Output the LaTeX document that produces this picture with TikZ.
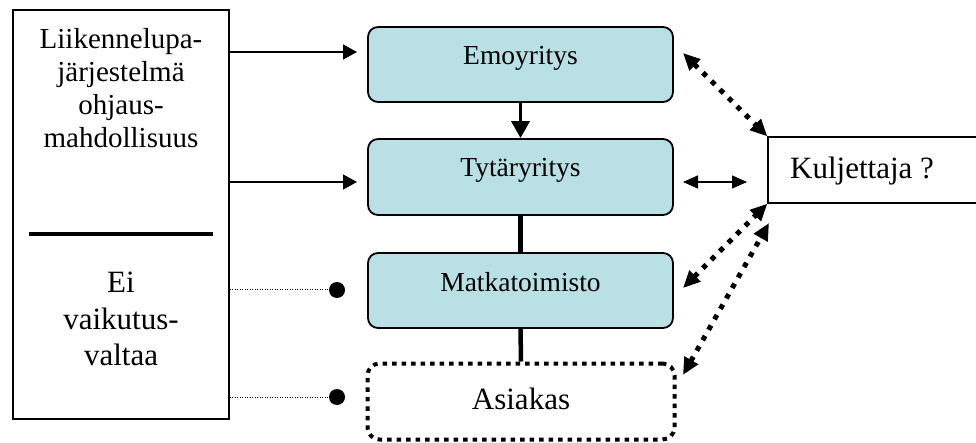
\documentclass[tikz,border=0pt]{standalone}
\usepackage{fontspec}
\setmainfont{Liberation Serif}
\usetikzlibrary{arrows.meta}
\definecolor{boxfill}{RGB}{185,224,228}
\begin{document}
\begin{tikzpicture}[x=1pt,y=-1pt,
  orgbox/.style={draw,line width=1.8pt,rounded corners=10pt,fill=boxfill,minimum width=305pt,minimum height=75pt,inner sep=0pt},
  plainbox/.style={draw,line width=1.3pt,inner sep=0pt},
  txtA/.style={font=\fontsize{29}{33}\selectfont,anchor=base,inner sep=0pt},
  txtB/.style={font=\fontsize{31}{36}\selectfont,anchor=base,inner sep=0pt},
  txtC/.style={font=\fontsize{27.5}{32}\selectfont,anchor=base,inner sep=0pt},
  thinarrow/.style={line width=1.3pt,-{Triangle[length=14pt,width=15pt]}},
  dotline/.style={line width=1pt,dash pattern=on 1pt off 1.5pt},
  dotarrow/.style={line width=5pt,dash pattern=on 5pt off 7pt,{Triangle[length=17pt,width=15pt]}-{Triangle[length=17pt,width=15pt]}},
  dot/.style={circle,fill=black,inner sep=0pt,minimum size=16pt}
]
\useasboundingbox (0,0) rectangle (976,443);
% left box
\node[plainbox,minimum width=216pt,minimum height=409pt] (L) at (121,214.5) {};
\draw[line width=4.5pt] (29,234) coordinate (sepL) -- (213,234) coordinate (sepR);
\node[txtA] (l1) at (121,49) {Liikennelupa-};
\node[txtA] (l2) at (121,82) {järjestelmä};
\node[txtA] (l3) at (121,115) {ohjaus-};
\node[txtA] (l4) at (121,148) {mahdollisuus};
\node[txtB] (l5) at (121,293) {Ei};
\node[txtB] (l6) at (121,329) {vaikutus-};
\node[txtB] (l7) at (121,365) {valtaa};
% middle boxes
\node[orgbox] (E) at (520.5,64.5) {};
\node[orgbox,minimum height=76pt] (T) at (520.5,177) {};
\node[orgbox] (M) at (520.5,290.5) {};
\node[draw,line width=4pt,dash pattern=on 4.5pt off 5pt,rounded corners=12pt,minimum width=307pt,minimum height=76pt,inner sep=0pt] (A) at (521,401.5) {};
\node[txtC] (Et) at (520.5,65) {Emoyritys};
\node[txtC] (Tt) at (520.5,177) {Tytäryritys};
\node[txtC] (Mt) at (520.5,291) {Matkatoimisto};
\node[txtB] (At) at (521,409) {Asiakas};
% right box
\node[plainbox,minimum width=240pt,minimum height=66pt] (K) at (888,170) {};
\node[txtB,anchor=base west] (Kt) at (790,179) {Kuljettaja ?};
% vertical connectors
\draw[line width=3.5pt,-{Triangle[length=17pt,width=18pt]}] (E.south) -- (T.north);
\draw[line width=4.5pt] (T.south) -- (M.north);
\draw[line width=4.5pt] (M.south) -- (A.north);
% left arrows
\coordinate (a1s) at (L.east |- 0,52);
\coordinate (a1e) at (357,52);
\coordinate (a2s) at (L.east |- 0,182);
\coordinate (a2e) at (357,182);
\draw[thinarrow] (a1s) -- (a1e);
\draw[thinarrow] (a2s) -- (a2e);
% dotted lines to dots
\node[dot] (d1) at (337,290) {};
\node[dot] (d2) at (337,397) {};
\draw[dotline] (L.east |- d1) -- (d1);
\draw[dotline] (L.east |- d2) -- (d2);
% right connectors
\coordinate (e1) at (683,53);
\coordinate (m1) at (683,288);
\coordinate (k3) at (769,223);
\coordinate (as1) at (683,375);
\draw[dotarrow] (e1) -- (K.north west);
\draw[dotarrow] (m1) -- (K.south west);
\draw[dotarrow] (as1) -- (k3);
\coordinate (t1) at (683,182);
\coordinate (t2) at (747,182);
\draw[line width=1.5pt,{Triangle[length=15pt,width=13pt]}-{Triangle[length=15pt,width=13pt]}] (t1) -- (t2);
\end{tikzpicture}
\end{document}
